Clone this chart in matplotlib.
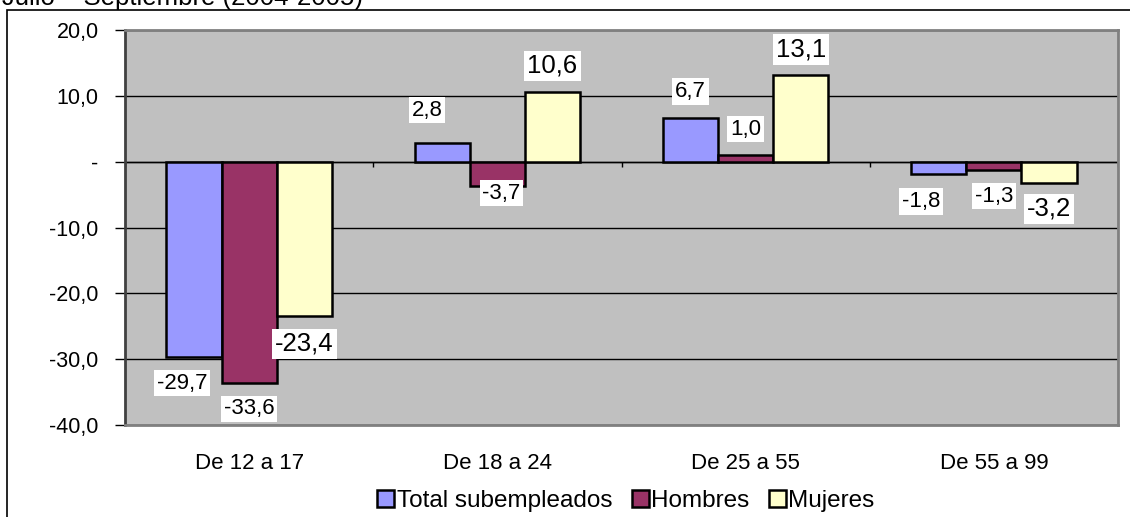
import matplotlib
matplotlib.use('Agg')
import matplotlib.pyplot as plt
import numpy as np
from matplotlib.patches import Rectangle
from matplotlib.ticker import FixedLocator, FuncFormatter

plt.rcParams['font.family'] = ['Liberation Sans', 'DejaVu Sans']

# Data
categories = ['De 12 a 17', 'De 18 a 24', 'De 25 a 55', 'De 55 a 99']
series_names = ['Total subempleados', 'Hombres', 'Mujeres']
total = [-29.7, 2.8, 6.7, -1.8]
hombres = [-33.6, -3.7, 1.0, -1.3]
mujeres = [-23.4, 10.6, 13.1, -3.2]
title = 'Julio – Septiembre (2004-2005)'

colors = ['#9999FF', '#993366', '#FFFFCC']
label_sizes = [16, 16, 18.5]
# pixel nudges for labels Excel moved by hand: (series, group) -> (dx, dy)
nudges = {(0, 0): (-12, 0), (0, 1): (-15, 7), (1, 1): (4, -19), (0, 3): (-18, 2),
          (2, 0): (0, 2)}

W, H = 1130, 517
fig = plt.figure(figsize=(W / 100, H / 100), dpi=100)
ax = fig.add_axes([125 / W, 1 - 425 / H, (1118 - 125) / W, (425 - 30) / H])
ax.set_facecolor('#C0C0C0')

x = np.arange(len(categories))
bw = 0.222
all_series = [total, hombres, mujeres]
handles = []
for i, vals in enumerate(all_series):
    bars = ax.bar(x + (i - 1) * bw, vals, bw, color=colors[i], edgecolor='black',
                  linewidth=1.8, zorder=3, label=series_names[i])
    handles.append(bars)
    for j, (b, v) in enumerate(zip(bars, vals)):
        dx, dy = nudges.get((i, j), (0, 0))
        off = 26 + dy
        yoff = off if v >= 0 else -off
        txt = f'{v:.1f}'.replace('.', ',')
        ax.annotate(txt, (b.get_x() + b.get_width() / 2, v),
                    xytext=(dx * 0.72, yoff * 0.72), textcoords='offset points',
                    ha='center', va='center', fontsize=label_sizes[i], zorder=5,
                    bbox=dict(boxstyle='square,pad=0.12', fc='white', ec='none'))

ax.set_xlim(-0.5, len(categories) - 0.5)
ax.set_ylim(-40, 20)
yt = [-40, -30, -20, -10, 0, 10, 20]
ax.yaxis.set_major_locator(FixedLocator(yt))
ax.yaxis.set_major_formatter(FuncFormatter(
    lambda v, p: '-' if v == 0 else f'{v:.1f}'.replace('.', ',')))
ax.grid(axis='y', color='black', linewidth=1, zorder=1)
ax.axhline(0, color='black', linewidth=1, zorder=2)
ax.tick_params(axis='y', direction='out', length=7, width=1, labelsize=15.5, pad=12)

# category axis ticks sit on the zero line
ax.set_xticks(x)
ax.set_xticklabels(categories, fontsize=16)
ax.tick_params(axis='x', length=0, pad=20)
ax.vlines(np.arange(len(categories) + 1) - 0.5, -0.8, 0, color='black', linewidth=1, zorder=2)

for side in ['top', 'right', 'bottom']:
    ax.spines[side].set_color('#808080')
    ax.spines[side].set_linewidth(2)
ax.spines['left'].set_color('#404040')
ax.spines['left'].set_linewidth(2)

leg = fig.legend(handles=handles, loc='center', bbox_to_anchor=(626 / W, 1 - 501 / H),
                 ncol=3, frameon=False, fontsize=17.5, handlelength=0.7, handleheight=0.7,
                 handletextpad=0.1, columnspacing=0.8, borderaxespad=0)

# outer chart border, clipped by the screenshot on the right and bottom
fig.patches.append(Rectangle((7 / W, -0.1), 1.2, 1 - 10 / H + 0.1, transform=fig.transFigure,
                             fill=False, ec='black', lw=1.2))
fig.text(2 / W, 1 - 5 / H, title, fontsize=18.5, ha='left', va='baseline')

fig.savefig('out.png', dpi=100)
